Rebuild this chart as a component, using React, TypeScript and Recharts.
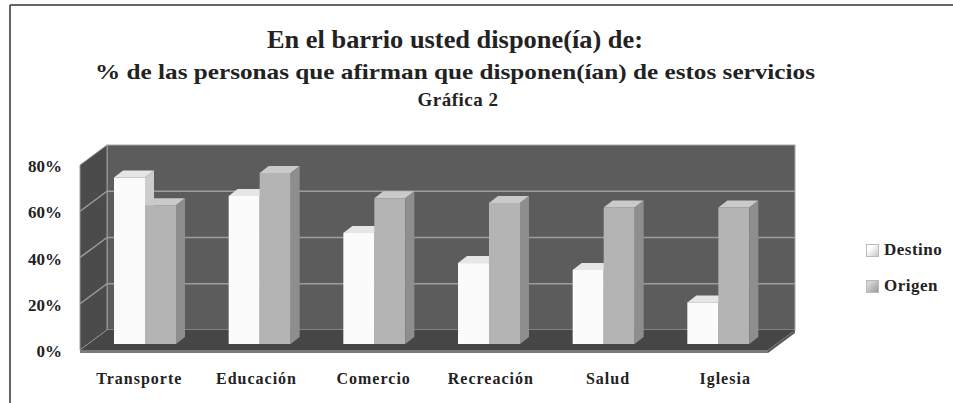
import React from "react";
import { Bar, BarChart, ReferenceArea, XAxis, YAxis } from "recharts";

const CATEGORIES = ["Transporte", "Educación", "Comercio", "Recreación", "Salud", "Iglesia"];
const DESTINO = [0.72, 0.64, 0.48, 0.35, 0.32, 0.18];
const ORIGEN = [0.6, 0.74, 0.63, 0.61, 0.59, 0.59];
const Y_TICKS = [0, 0.2, 0.4, 0.6, 0.8];
const SERIES = [
  { key: "destino", name: "Destino" },
  { key: "origen", name: "Origen" },
];

const data = CATEGORIES.map((cat, i) => ({ cat, destino: DESTINO[i], origen: ORIGEN[i] }));

const W = 953;
const H = 403;
const FONT = "'Liberation Serif', 'Times New Roman', serif";
// profundidad de la "caja" 3D (pared del fondo) y de las barras
const WALL_DX = 27;
const WALL_DY = 20;
const BAR_DX = 8;
const BAR_DY = -6;
const BAR_SX = 9;
const BAR_SY = 7;

const BAR_COLORS: Record<string, { front: string; top: string; side: string }> = {
  destino: { front: "#fbfbfb", top: "#e6e6e6", side: "#cdcdcd" },
  origen: { front: "#b4b4b4", top: "#cacaca", side: "#8e8e8e" },
};

function Bar3D(props: any) {
  const { x, y, width, height, dataKey } = props;
  if (width == null || height == null || height <= 0) return null;
  const c = BAR_COLORS[dataKey] ?? BAR_COLORS.origen;
  const X = x + BAR_DX;
  const Y = y + BAR_DY;
  const w = width;
  const h = height;
  return (
    <g>
      <rect x={X} y={Y} width={w} height={h} fill={c.front} />
      <polygon
        points={`${X},${Y} ${X + BAR_SX},${Y - BAR_SY} ${X + w + BAR_SX},${Y - BAR_SY} ${X + w},${Y}`}
        fill={c.top}
      />
      <polygon
        points={`${X + w},${Y} ${X + w + BAR_SX},${Y - BAR_SY} ${X + w + BAR_SX},${Y + h - BAR_SY} ${X + w},${Y + h}`}
        fill={c.side}
      />
    </g>
  );
}

// paredes, piso y líneas de cuadrícula en perspectiva
function Walls(props: any) {
  const { x, y, width: w, height: h } = props;
  if (x == null) return null;
  const max = Y_TICKS[Y_TICKS.length - 1];
  const yOf = (v: number) => y + h - (v / max) * h;
  return (
    <g>
      <rect x={x + WALL_DX} y={y - WALL_DY} width={w} height={h} fill="#5c5c5c" stroke="#a8a8a8" strokeWidth={1} />
      <polygon
        points={`${x},${y} ${x + WALL_DX},${y - WALL_DY} ${x + WALL_DX},${y + h - WALL_DY} ${x},${y + h}`}
        fill="#4b4b4b"
        stroke="#9a9a9a"
        strokeWidth={1}
      />
      {Y_TICKS.slice(1, -1).map((v) => (
        <g key={v}>
          <line x1={x + WALL_DX} y1={yOf(v) - WALL_DY} x2={x + w + WALL_DX} y2={yOf(v) - WALL_DY} stroke="#9d9d9d" strokeWidth={1.5} />
          <line x1={x} y1={yOf(v)} x2={x + WALL_DX} y2={yOf(v) - WALL_DY} stroke="#9d9d9d" strokeWidth={1.5} />
        </g>
      ))}
      <polygon
        points={`${x},${y + h} ${x + WALL_DX},${y + h - WALL_DY} ${x + w + WALL_DX},${y + h - WALL_DY} ${x + w},${y + h}`}
        fill="#464646"
      />
      <line x1={x} y1={y + h} x2={x + WALL_DX} y2={y + h - WALL_DY} stroke="#8a8a8a" strokeWidth={1} />
      <polygon
        points={`${x},${y + h} ${x + w},${y + h} ${x + w},${y + h + 3} ${x},${y + h + 3}`}
        fill="#7a7a7a"
      />
      <polygon
        points={`${x + w},${y + h} ${x + w + WALL_DX},${y + h - WALL_DY} ${x + w + WALL_DX},${y + h - WALL_DY + 3} ${x + w},${y + h + 3}`}
        fill="#5a5a5a"
      />
    </g>
  );
}

function YTick(props: any) {
  const { x, y, payload } = props;
  return (
    <text x={x - 10} y={y + 7} textAnchor="end" fontFamily={FONT} fontWeight="bold" fontSize={17} fill="#222">
      {`${Math.round(payload.value * 100)}%`}
    </text>
  );
}

function XTick(props: any) {
  const { x, y, payload, index } = props;
  return (
    <text
      x={x + 2 + index * 2.5}
      y={y + 26}
      textAnchor="middle"
      fontFamily={FONT}
      fontWeight="bold"
      fontSize={16}
      letterSpacing={1}
      fill="#222"
    >
      {payload.value}
    </text>
  );
}

const SWATCH: Record<string, string> = {
  Destino: "linear-gradient(135deg, #ffffff 30%, #c8c8c8)",
  Origen: "linear-gradient(135deg, #d6d6d6 20%, #9a9a9a)",
};

function LegendBox() {
  return (
    <div
      style={{
        position: "absolute",
        left: 866,
        top: 232,
        fontFamily: FONT,
        fontWeight: "bold",
        fontSize: 17,
        color: "#222",
      }}
    >
      {SERIES.map((s) => (
        <div key={s.key} style={{ display: "flex", alignItems: "center", height: 36 }}>
          <span
            style={{
              display: "inline-block",
              width: 11,
              height: 11,
              marginRight: 5,
              background: SWATCH[s.name],
              border: "1px solid #bbb",
            }}
          />
          <span style={{ letterSpacing: 0.5 }}>{s.name}</span>
        </div>
      ))}
    </div>
  );
}

export default function App() {
  return (
    <div style={{ position: "absolute", left: 0, top: 0, width: W, height: H, background: "#fff" }}>
      <BarChart
        width={W}
        height={H}
        data={data}
        margin={{ top: 165, right: 185, bottom: 0, left: 0 }}
        barGap={0}
        barSize={31}
      >
        <ReferenceArea y1={0} y2={0.8} shape={<Walls />} ifOverflow="visible" zIndex={-10} />
        <XAxis dataKey="cat" axisLine={false} tickLine={false} height={53} tick={<XTick />} interval={0} />
        <YAxis
          domain={[0, 0.8]}
          ticks={Y_TICKS}
          axisLine={false}
          tickLine={false}
          width={80}
          tick={<YTick />}
        />
        {SERIES.map((s) => (
          <Bar key={s.key} dataKey={s.key} name={s.name} shape={<Bar3D dataKey={s.key} />} isAnimationActive={false} />
        ))}
      </BarChart>
      <LegendBox />
      <svg width={W} height={H} style={{ position: "absolute", left: 0, top: 0, pointerEvents: "none" }}>
        <line x1={10} y1={5} x2={W} y2={5} stroke="#333" strokeWidth={1.5} />
        <line x1={10} y1={5} x2={10} y2={H} stroke="#333" strokeWidth={1.5} />
        <g fontFamily={FONT} fontWeight="bold" fill="#222" textAnchor="middle">
          <text x={455} y={48} fontSize={25} textLength={376} lengthAdjust="spacingAndGlyphs">
            En el barrio usted dispone(ía) de:
          </text>
          <text x={455} y={79} fontSize={22} textLength={720} lengthAdjust="spacingAndGlyphs">
            % de las personas que afirman que disponen(ían) de estos servicios
          </text>
          <text x={458} y={106} fontSize={19} letterSpacing={0.5}>
            Gráfica 2
          </text>
        </g>
      </svg>
    </div>
  );
}
